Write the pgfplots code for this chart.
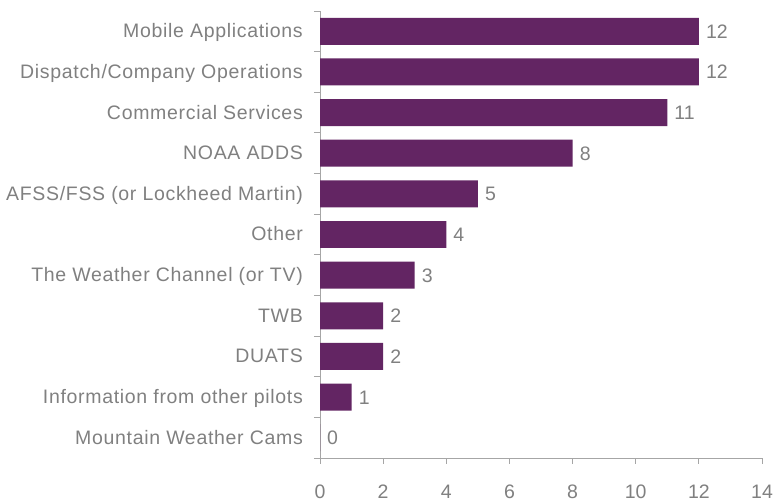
\documentclass[border=0pt]{standalone}
\usepackage{pgfplots}
\pgfplotsset{compat=1.18}
\usepackage{fontspec}
\setmainfont{Liberation Sans}
\newfontfamily\lblfont{Liberation Sans}[LetterSpace=3.5]
\definecolor{barc}{RGB}{99,37,99}
\definecolor{txt}{RGB}{128,128,128}
\definecolor{axc}{RGB}{166,166,166}
\begin{document}
\begin{tikzpicture}
\path[use as bounding box] (0,0) rectangle (773bp,502bp);
\begin{axis}[
  at={(320bp,44bp)}, anchor=south west,
  scale only axis, width=442bp, height=447bp,
  xmin=0, xmax=14, ymin=-0.5, ymax=10.5,
  xtick={0,2,...,14},
  ytick={0,...,10},
  yticklabels={Mountain Weather Cams, Information from other pilots, DUATS, TWB, The Weather Channel (or TV), Other, AFSS/FSS (or Lockheed Martin), NOAA ADDS, Commercial Services, Dispatch/Company Operations, Mobile Applications},
  minor ytick={-0.5,0.5,...,10.5},
  axis x line*=bottom, axis y line*=left,
  axis line style={draw=axc, line width=0.9bp, -},
  tick style={draw=axc, line width=0.9bp},
  major y tick style={draw=none},
  major tick length=6bp, minor tick length=6bp,
  tick align=outside,
  /pgf/number format/assume math mode=true,
  xticklabel style={font=\fontsize{19.5bp}{23bp}\selectfont, text=txt, anchor=base, inner sep=0pt, text depth=0pt, yshift=-35bp},
  yticklabel style={font=\lblfont\fontsize{19.5bp}{23bp}\selectfont, text=txt, anchor=base east, inner sep=0pt, xshift=-11bp, yshift=-6.5bp},
  xbar, bar width=0.664,
  nodes near coords,
  every node near coord/.append style={font=\fontsize{19.5bp}{23bp}\selectfont, text=txt, anchor=base west, inner sep=0pt, xshift=7bp, yshift=-7bp},
]
\addplot[fill=barc, draw=none] coordinates {
(0,0) (1,1) (2,2) (2,3) (3,4) (4,5) (5,6) (8,7) (11,8) (12,9) (12,10)
};
\end{axis}
\end{tikzpicture}
\end{document}
